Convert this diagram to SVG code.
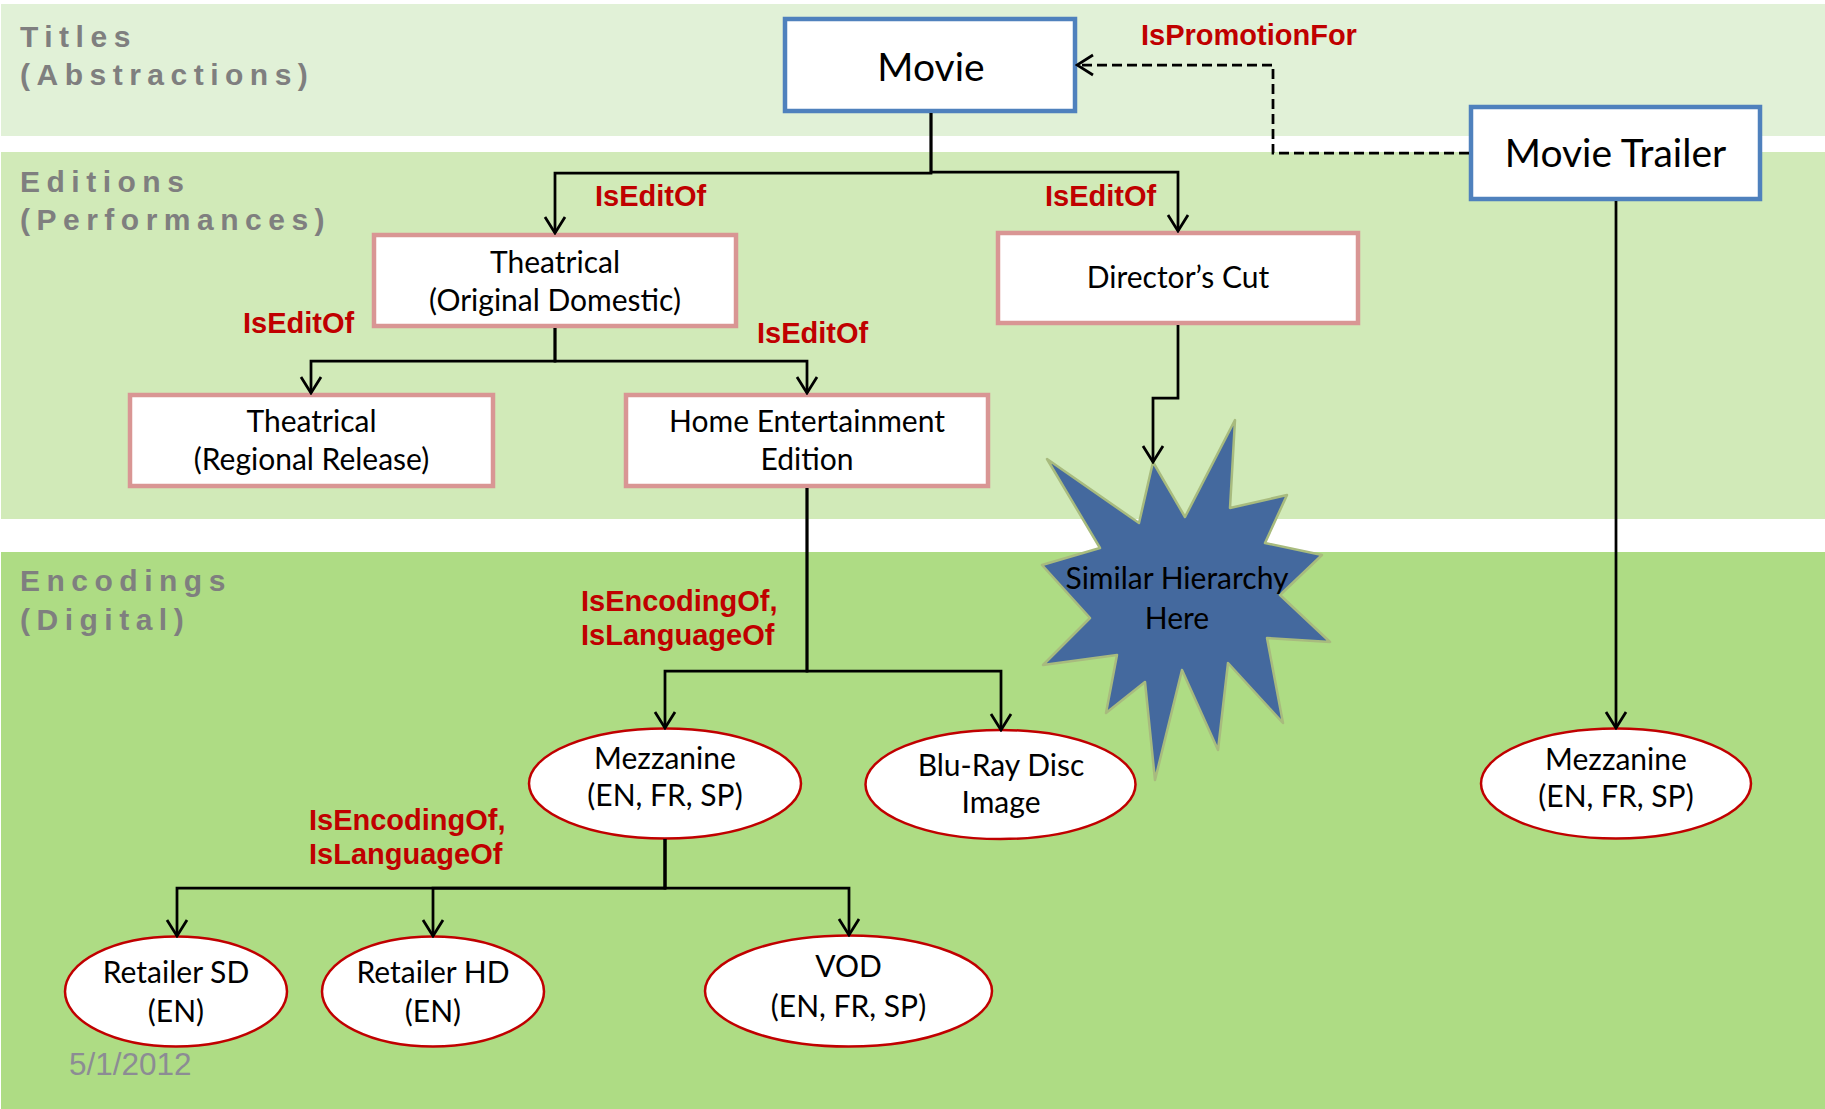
<svg xmlns="http://www.w3.org/2000/svg" width="1825" height="1109" viewBox="0 0 1825 1109">
  <style>
    .band-label { font-family: "Liberation Sans", Arial, sans-serif; font-weight: bold; font-size: 30px; letter-spacing: 6.5px; fill: #7F7F7F; }
    .rel { font-family: "Liberation Sans", Arial, sans-serif; font-weight: bold; font-size: 29px; fill: #C00000; }
    .node-text { font-family: Lato, "Open Sans", sans-serif; font-size: 30px; fill: #000; text-anchor: middle; }
    .big-text { font-family: Lato, "Open Sans", sans-serif; font-size: 39px; fill: #000; text-anchor: middle; }
    .title-box { fill: #fff; stroke: #4F81BD; stroke-width: 4.5; }
    .edition-box { fill: #fff; stroke: #D99694; stroke-width: 4.5; }
    .encoding { fill: #fff; stroke: #C00000; stroke-width: 2.5; }
    .conn { fill: none; stroke: #000; stroke-width: 2.75; }
    .dashed { stroke-dasharray: 10 5; }
  </style>
  <defs>
    <marker id="arr" viewBox="-18 -12 20 24" refX="0" refY="0" markerWidth="20" markerHeight="24" markerUnits="userSpaceOnUse" orient="auto">
      <path d="M-16,-10 L0,0 L-16,10" fill="none" stroke="#000" stroke-width="2.75"/>
    </marker>
  </defs>

  <!-- Bands -->
  <g id="bands">
    <rect x="1" y="4" width="1824" height="132" fill="#E1F1D7"/>
    <rect x="1" y="152" width="1824" height="367" fill="#D1EAB8"/>
    <rect x="1" y="552" width="1824" height="557" fill="#AEDC84"/>
    <text class="band-label" x="20" y="47">Titles</text>
    <text class="band-label" x="20" y="85">(Abstractions)</text>
    <text class="band-label" x="20" y="192">Editions</text>
    <text class="band-label" x="20" y="230">(Performances)</text>
    <text class="band-label" x="20" y="591">Encodings</text>
    <text class="band-label" x="20" y="630">(Digital)</text>
    <text x="69" y="1075" font-family="Liberation Sans, Arial, sans-serif" font-size="31.5" fill="#8C8C94">5/1/2012</text>
  </g>

  <!-- Nodes -->
  <g id="movie">
    <rect class="title-box" x="785" y="19" width="290" height="92"/>
    <text class="big-text" x="931" y="81">Movie</text>
  </g>
  <g id="movie-trailer">
    <rect class="title-box" x="1471" y="107" width="289" height="92"/>
    <text class="big-text" x="1615.5" y="167">Movie Trailer</text>
  </g>
  <g id="theatrical-original">
    <rect class="edition-box" x="374" y="235" width="362" height="91"/>
    <text class="node-text" x="555" y="273">Theatrical</text>
    <text class="node-text" x="555" y="311">(Original Domestic)</text>
  </g>
  <g id="directors-cut">
    <rect class="edition-box" x="998" y="233" width="360" height="90"/>
    <text class="node-text" x="1178" y="288">Director’s Cut</text>
  </g>
  <g id="theatrical-regional">
    <rect class="edition-box" x="130" y="395" width="363" height="91"/>
    <text class="node-text" x="311.5" y="432">Theatrical</text>
    <text class="node-text" x="311.5" y="470">(Regional Release)</text>
  </g>
  <g id="home-entertainment">
    <rect class="edition-box" x="626" y="395" width="362" height="91"/>
    <text class="node-text" x="807" y="432">Home Entertainment</text>
    <text class="node-text" x="807" y="470">Edition</text>
  </g>
  <g id="similar-hierarchy">
    <polygon points="1153,462 1185,517 1235,420 1230,508 1287,495 1265,543 1322,555 1280,595 1330,642 1267,638 1283,723 1228,663 1218,750 1182,670 1155,780 1145,682 1106,713 1117,655 1043,665 1090,618 1042,565 1100,548 1047,459 1139,523" fill="#44699E" stroke="#A8BB7E" stroke-width="2.5" stroke-linejoin="round"/>
    <text class="node-text" x="1177" y="589">Similar Hierarchy</text>
    <text class="node-text" x="1177" y="629">Here</text>
  </g>
  <g id="mezzanine">
    <ellipse class="encoding" cx="665" cy="783.5" rx="136" ry="55"/>
    <text class="node-text" x="665" y="769">Mezzanine</text>
    <text class="node-text" x="665" y="806">(EN, FR, SP)</text>
  </g>
  <g id="blu-ray">
    <ellipse class="encoding" cx="1000.5" cy="784.5" rx="135" ry="54.5"/>
    <text class="node-text" x="1001" y="776">Blu-Ray Disc</text>
    <text class="node-text" x="1001" y="813">Image</text>
  </g>
  <g id="mezzanine-trailer">
    <ellipse class="encoding" cx="1616" cy="783.5" rx="135" ry="55"/>
    <text class="node-text" x="1616" y="770">Mezzanine</text>
    <text class="node-text" x="1616" y="807">(EN, FR, SP)</text>
  </g>
  <g id="retailer-sd">
    <ellipse class="encoding" cx="176" cy="991.5" rx="111" ry="55"/>
    <text class="node-text" x="176" y="983">Retailer SD</text>
    <text class="node-text" x="176" y="1022">(EN)</text>
  </g>
  <g id="retailer-hd">
    <ellipse class="encoding" cx="433" cy="991.5" rx="111" ry="55"/>
    <text class="node-text" x="433" y="983">Retailer HD</text>
    <text class="node-text" x="433" y="1022">(EN)</text>
  </g>
  <g id="vod">
    <ellipse class="encoding" cx="848.5" cy="991" rx="143.5" ry="55.5"/>
    <text class="node-text" x="848.5" y="977">VOD</text>
    <text class="node-text" x="848.5" y="1017">(EN, FR, SP)</text>
  </g>

  <!-- Connectors -->
  <g id="connectors">
    <path class="conn" d="M931,113 V173 H555 V233" marker-end="url(#arr)"/>
    <path class="conn" d="M931,113 V172 H1178 V231" marker-end="url(#arr)"/>
    <path class="conn" d="M555,328 V361 H311 V393" marker-end="url(#arr)"/>
    <path class="conn" d="M555,328 V361 H807 V393" marker-end="url(#arr)"/>
    <path class="conn" d="M1178,325 V398 H1153 V462" marker-end="url(#arr)"/>
    <path class="conn" d="M807,488 V671 H665 V728" marker-end="url(#arr)"/>
    <path class="conn" d="M807,488 V671 H1001 V730" marker-end="url(#arr)"/>
    <path class="conn" d="M665,839 V888 H177 V936" marker-end="url(#arr)"/>
    <path class="conn" d="M665,839 V888 H433 V936" marker-end="url(#arr)"/>
    <path class="conn" d="M665,839 V888 H849 V935" marker-end="url(#arr)"/>
    <path class="conn" d="M1616,201 V728" marker-end="url(#arr)"/>
    <path class="conn dashed" d="M1469,153 H1273 V65 H1077" marker-end="url(#arr)"/>
  </g>

  <!-- Connector labels -->
  <g id="connector-labels">
    <text class="rel" x="1141" y="45">IsPromotionFor</text>
    <text class="rel" x="595" y="206">IsEditOf</text>
    <text class="rel" x="1045" y="206">IsEditOf</text>
    <text class="rel" x="243" y="333">IsEditOf</text>
    <text class="rel" x="757" y="343">IsEditOf</text>
    <text class="rel" x="581" y="611">IsEncodingOf,</text>
    <text class="rel" x="581" y="645">IsLanguageOf</text>
    <text class="rel" x="309" y="830">IsEncodingOf,</text>
    <text class="rel" x="309" y="864">IsLanguageOf</text>
  </g>
</svg>
